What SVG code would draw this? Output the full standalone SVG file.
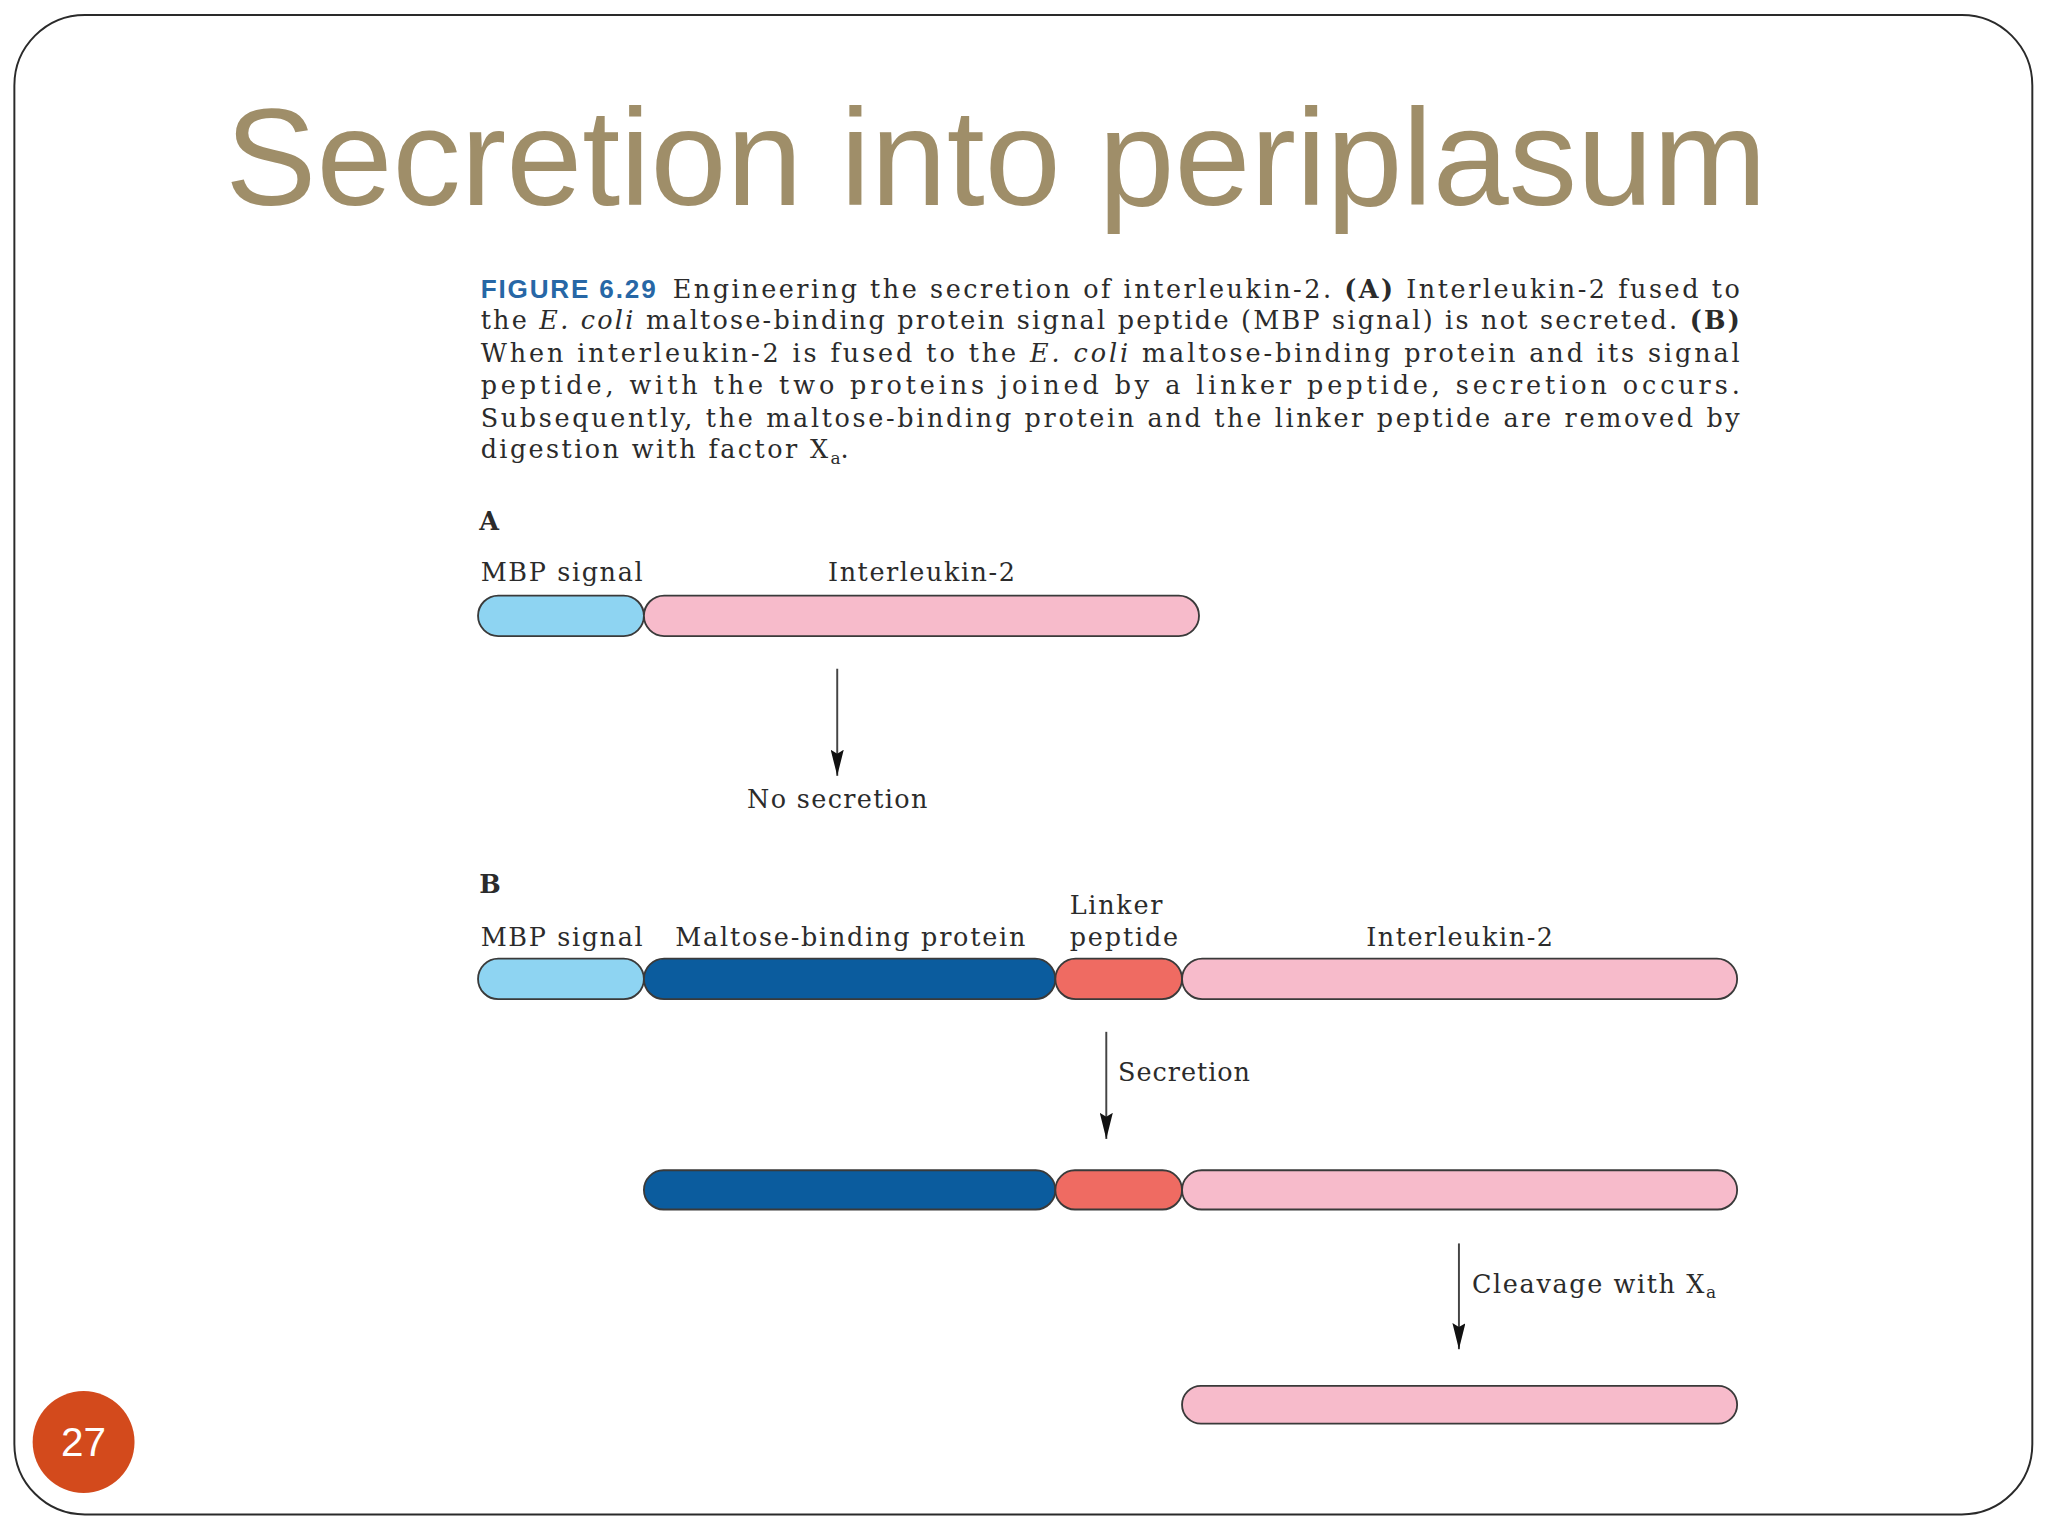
<svg xmlns="http://www.w3.org/2000/svg" width="2048" height="1536" viewBox="0 0 2048 1536">
<defs>
<style>
.cap{font-family:"DejaVu Serif","Liberation Serif",serif;font-size:19.5px;fill:#2b2b2b}
.lbl{font-family:"DejaVu Serif","Liberation Serif",serif;font-size:19.5px;fill:#2b2b2b}
.bold{font-weight:bold}
.it{font-style:italic}
.fig{font-family:"Liberation Sans",Arial,sans-serif;fill:#2767a6;font-size:20px;font-weight:bold}
.seg{stroke:#3a3a3a;stroke-width:1.4}
.sig{fill:#8ed4f2}
.mbp{fill:#0b5c9e}
.lnk{fill:#ef6b62}
.il2{fill:#f7bbcb}
.arr{stroke:#444;stroke-width:1.5;fill:none}
</style>
<marker id="ah" viewBox="0 0 20 10" markerWidth="20" markerHeight="10" refX="20" refY="5" orient="auto" markerUnits="userSpaceOnUse">
<path d="M0,0 L20,5 L0,10 L3,5 z" fill="#111"/>
</marker>
</defs>
<rect x="0" y="0" width="2048" height="1536" fill="#ffffff"/>
<g transform="scale(1.30612)">
<rect id="slide-border" x="11" y="11.5" width="1545" height="1148" rx="54" ry="54" fill="#ffffff" stroke="#2a2a2a" stroke-width="1.5"/>
<g id="title">
<text x="172.5" y="157" font-family="Liberation Sans, Arial, sans-serif" font-size="104.6" fill="#9f8e69">Secretion into periplasum</text>
</g>
<g id="caption">
<text class="fig" x="368" y="228" textLength="134" lengthAdjust="spacing">FIGURE 6.29</text>
<text class="cap" x="515" y="228" textLength="817" lengthAdjust="spacing">Engineering the secretion of interleukin-2. <tspan class="bold">(A)</tspan> Interleukin-2 fused to</text>
<text class="cap" x="368" y="252" textLength="964" lengthAdjust="spacing">the <tspan class="it">E. coli</tspan> maltose-binding protein signal peptide (MBP signal) is not secreted. <tspan class="bold">(B)</tspan></text>
<text class="cap" x="368" y="277" textLength="964" lengthAdjust="spacing">When interleukin-2 is fused to the <tspan class="it">E. coli</tspan> maltose-binding protein and its signal</text>
<text class="cap" x="368" y="302" textLength="964" lengthAdjust="spacing">peptide, with the two proteins joined by a linker peptide, secretion occurs.</text>
<text class="cap" x="368" y="327" textLength="964" lengthAdjust="spacing">Subsequently, the maltose-binding protein and the linker peptide are removed by</text>
<text class="cap" x="368" y="351"><tspan textLength="266" lengthAdjust="spacing">digestion with factor X</tspan><tspan font-size="13" dy="4">a</tspan><tspan dy="-4">.</tspan></text>
</g>
<g id="panel-a-label"><text class="lbl bold" x="367" y="406">A</text></g>
<g id="a-mbp-signal">
<text class="lbl" x="368" y="445" textLength="124" lengthAdjust="spacing">MBP signal</text>
<rect class="seg sig" x="366" y="456" width="127" height="31" rx="15.5"/>
</g>
<g id="a-interleukin-2">
<text class="lbl" x="634" y="445" textLength="143" lengthAdjust="spacing">Interleukin-2</text>
<rect class="seg il2" x="493" y="456" width="425" height="31" rx="15.5"/>
</g>
<g id="a-no-secretion">
<text class="lbl" x="641" y="619" text-anchor="middle" textLength="138" lengthAdjust="spacing">No secretion</text>
</g>
<g id="panel-b-label"><text class="lbl bold" x="367" y="684">B</text></g>
<g id="b1-mbp-signal">
<text class="lbl" x="368" y="724" textLength="124" lengthAdjust="spacing">MBP signal</text>
<rect class="seg sig" x="366" y="734" width="127" height="31" rx="15.5"/>
</g>
<g id="b1-maltose-binding-protein">
<text class="lbl" x="517" y="724" textLength="268" lengthAdjust="spacing">Maltose-binding protein</text>
<rect class="seg mbp" x="493" y="734" width="315" height="31" rx="15.5"/>
</g>
<g id="b1-linker-peptide">
<text class="lbl" x="819" y="700" textLength="71" lengthAdjust="spacing">Linker</text>
<text class="lbl" x="819" y="724" textLength="83" lengthAdjust="spacing">peptide</text>
<rect class="seg lnk" x="808" y="734" width="97" height="31" rx="15.5"/>
</g>
<g id="b1-interleukin-2">
<text class="lbl" x="1046" y="724" textLength="143" lengthAdjust="spacing">Interleukin-2</text>
<rect class="seg il2" x="905" y="734" width="425" height="31" rx="15.5"/>
</g>
<g id="b2-maltose-binding-protein">
<rect class="seg mbp" x="493" y="896" width="315" height="30" rx="15"/>
</g>
<g id="b2-linker-peptide">
<rect class="seg lnk" x="808" y="896" width="97" height="30" rx="15"/>
</g>
<g id="b2-interleukin-2">
<rect class="seg il2" x="905" y="896" width="425" height="30" rx="15"/>
</g>
<g id="b3-interleukin-2">
<rect class="seg il2" x="905" y="1061" width="425" height="29" rx="14.5"/>
</g>
<g id="connectors">
<line class="arr" x1="641" y1="512" x2="641" y2="594" marker-end="url(#ah)"/>
<line class="arr" x1="847" y1="790" x2="847" y2="872" marker-end="url(#ah)"/>
<text class="lbl" x="856" y="828" textLength="101" lengthAdjust="spacing">Secretion</text>
<line class="arr" x1="1117" y1="952" x2="1117" y2="1033" marker-end="url(#ah)"/>
<text class="lbl" x="1127" y="990"><tspan textLength="178" lengthAdjust="spacing">Cleavage with X</tspan><tspan font-size="13" dy="4">a</tspan></text>
</g>
<g id="page-number">
<circle cx="64" cy="1104" r="39" fill="#d34a1c"/>
<text x="64" y="1115" text-anchor="middle" font-family="Liberation Sans, Arial, sans-serif" font-size="31" fill="#ffffff">27</text>
</g>
</g>
</svg>
